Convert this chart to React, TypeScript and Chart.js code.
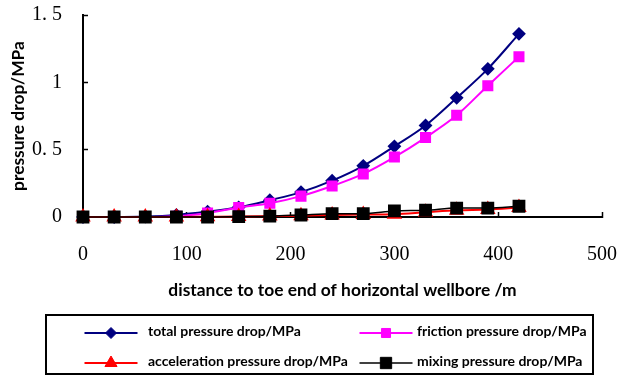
import React, { useEffect, useRef } from 'react';
import { Chart, registerables } from 'chart.js';
import { drawPoint } from 'chart.js/helpers';

Chart.register(...registerables);

// Distance from the toe end of the horizontal wellbore (m)
const distance = [0, 30, 60, 90, 120, 150, 180, 210, 240, 270, 300, 330, 360, 390, 420];

// Pressure drop components (MPa)
const totalDrop = [0, 0, 0.003, 0.015, 0.04, 0.072, 0.125, 0.185, 0.27, 0.38, 0.525, 0.68, 0.885, 1.1, 1.36];
const frictionDrop = [0, 0, 0, 0.005, 0.03, 0.07, 0.102, 0.155, 0.23, 0.32, 0.445, 0.59, 0.755, 0.975, 1.19];
const accelerationDrop = [0, 0, 0, 0, 0.002, 0.004, 0.007, 0.01, 0.015, 0.018, 0.02, 0.035, 0.05, 0.055, 0.07];
const mixingDrop = [0, 0, 0, 0, 0, 0.003, 0.006, 0.015, 0.025, 0.025, 0.045, 0.05, 0.066, 0.066, 0.08];

const seriesNames = [
  'total pressure drop/MPa',
  'friction pressure drop/MPa',
  'acceleration pressure drop/MPa',
  'mixing pressure drop/MPa',
];

const xTitle = 'distance to toe end of horizontal wellbore /m';
const yTitle = 'pressure drop/MPa';

const toPoints = (ys: number[]) => distance.map((x, i) => ({ x, y: ys[i] }));

// Boxed two-column legend drawn under the x-axis title
const boxedLegend = {
  id: 'boxedLegend',
  afterDraw(chart: any, _args: any, opts: any) {
    const { ctx } = chart;
    ctx.save();
    ctx.lineWidth = 2;
    ctx.strokeStyle = '#000';
    ctx.strokeRect(opts.left, opts.top, opts.right - opts.left, opts.bottom - opts.top);
    chart.data.datasets.forEach((ds: any, i: number) => {
      const col = i % 2;
      const row = Math.floor(i / 2);
      const cx = opts.markerX[col];
      const cy = opts.rowY[row];
      ctx.strokeStyle = ds.borderColor;
      ctx.lineWidth = ds.borderWidth;
      ctx.beginPath();
      ctx.moveTo(cx - opts.lineHalf, cy);
      ctx.lineTo(cx + opts.lineHalf, cy);
      ctx.stroke();
      ctx.fillStyle = ds.pointBackgroundColor;
      ctx.strokeStyle = ds.pointBorderColor;
      ctx.lineWidth = 1;
      drawPoint(ctx, { pointStyle: ds.pointStyle, radius: ds.pointRadius, borderWidth: 1, rotation: 0 }, cx, cy);
      ctx.fillStyle = '#000';
      ctx.font = opts.font;
      ctx.textAlign = 'left';
      ctx.textBaseline = 'middle';
      ctx.fillText(ds.label, opts.textX[col], cy - 1.5);
    });
    ctx.restore();
  },
};

export default function App() {
  const canvasRef = useRef<HTMLCanvasElement | null>(null);

  useEffect(() => {
    if (!canvasRef.current) return;
    const tickFont = { family: '"Liberation Serif", serif', size: 20 };
    const titleFont = { family: 'Lato, sans-serif', size: 17.4, weight: 'bold' as const };

    const chart = new Chart(canvasRef.current, {
      type: 'line',
      data: {
        datasets: [
          {
            label: seriesNames[0],
            data: toPoints(totalDrop),
            borderColor: '#000080',
            backgroundColor: '#000080',
            pointBackgroundColor: '#000080',
            pointBorderColor: '#000080',
            borderWidth: 2,
            pointStyle: 'rectRot',
            pointRadius: 5.5,
            order: 4,
          },
          {
            label: seriesNames[1],
            data: toPoints(frictionDrop),
            borderColor: '#ff00ff',
            backgroundColor: '#ff00ff',
            pointBackgroundColor: '#ff00ff',
            pointBorderColor: '#ff00ff',
            borderWidth: 2,
            pointStyle: 'rect',
            pointRadius: 6.4,
            order: 3,
          },
          {
            label: seriesNames[2],
            data: toPoints(accelerationDrop),
            borderColor: '#ff0000',
            backgroundColor: '#ff0000',
            pointBackgroundColor: '#ff0000',
            pointBorderColor: '#ff0000',
            borderWidth: 2,
            pointStyle: 'triangle',
            pointRadius: 7,
            order: 2,
          },
          {
            label: seriesNames[3],
            data: toPoints(mixingDrop),
            borderColor: '#000000',
            backgroundColor: '#000000',
            pointBackgroundColor: '#000000',
            pointBorderColor: '#000000',
            borderWidth: 1.5,
            pointStyle: 'rect',
            pointRadius: 8,
            order: 1,
          },
        ] as any,
      },
      options: {
        animation: false,
        responsive: false,
        maintainAspectRatio: false,
        datasets: { line: { cubicInterpolationMode: 'monotone', clip: false as any, pointHoverRadius: 6 } },
        layout: { padding: { left: 0, top: 15, right: 17, bottom: 76 } },
        plugins: {
          legend: { display: false },
          tooltip: { enabled: false },
          boxedLegend: {
            left: 46,
            top: 315,
            right: 593,
            bottom: 374,
            markerX: [111, 386],
            textX: [148, 417],
            rowY: [333, 363],
            lineHalf: 26.5,
            font: 'bold 14px Lato, sans-serif',
          },
        } as any,
        scales: {
          x: {
            type: 'linear',
            min: 0,
            max: 500,
            afterFit: (scale: any) => {
              scale.height = 84;
              scale.paddingLeft = 0;
              scale.paddingRight = 0;
            },
            ticks: { stepSize: 100, font: tickFont, color: '#000', padding: 31, maxRotation: 0 },
            grid: { drawOnChartArea: false, drawTicks: true, tickLength: -5, color: '#000', tickWidth: 1.5 },
            border: { display: true, color: '#000', width: 2 },
            title: { display: true, text: xTitle, font: titleFont, color: '#000', padding: { top: 0, bottom: 0 } },
          },
          y: {
            type: 'linear',
            min: 0,
            max: 1.5,
            afterFit: (scale: any) => {
              scale.width = 83;
              scale.paddingTop = 0;
              scale.paddingBottom = 0;
            },
            ticks: {
              stepSize: 0.5,
              font: tickFont,
              color: '#000',
              padding: 26,
              callback: (v: any) => String(v).replace('.', '. '),
            },
            grid: { drawOnChartArea: false, drawTicks: true, tickLength: -5, color: '#000', tickWidth: 1.5 },
            border: { display: true, color: '#000', width: 2 },
            title: { display: true, text: yTitle, font: titleFont, color: '#000', padding: { top: 8, bottom: 0 } },
          },
        },
      },
      plugins: [boxedLegend],
    });
    return () => chart.destroy();
  }, []);

  return (
    <div style={{ position: 'fixed', left: 0, top: 0, width: 619, height: 377, background: '#fff' }}>
      <canvas ref={canvasRef} width={619} height={377} style={{ display: 'block', width: 619, height: 377 }} />
    </div>
  );
}
